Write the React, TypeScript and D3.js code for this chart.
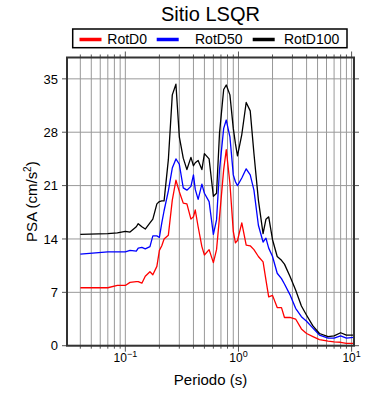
import React from "react";
import * as d3 from "d3";

// periods (s) shared by the three spectra
const periods = [0.04, 0.07, 0.085, 0.1, 0.11, 0.125, 0.13, 0.14, 0.15, 0.165, 0.175, 0.19, 0.2, 0.21, 0.22, 0.24, 0.26, 0.28, 0.3, 0.325, 0.35, 0.38, 0.4, 0.415, 0.44, 0.475, 0.5, 0.55, 0.6, 0.64, 0.68, 0.74, 0.78, 0.84, 0.9, 0.94, 0.98, 1.07, 1.17, 1.27, 1.37, 1.5, 1.65, 1.75, 1.85, 2.0, 2.2, 2.4, 2.55, 2.85, 3.2, 3.6, 4.0, 4.55, 5.2, 6.2, 7.0, 8.0, 9.0, 10.4];

const rotD0 = [7.6, 7.6, 7.9, 7.9, 8.3, 8.4, 8.4, 8.2, 9.1, 9.7, 9.3, 10.4, 12.5, 13.1, 14.0, 14.5, 19.1, 21.7, 20.2, 18.7, 18.6, 16.6, 16.9, 17.8, 15.6, 13.0, 11.9, 12.6, 10.9, 12.6, 16.9, 23.1, 25.7, 21.3, 15.0, 13.5, 13.8, 16.1, 13.2, 13.1, 12.6, 11.7, 11.0, 8.6, 6.4, 6.6, 5.0, 5.0, 3.7, 3.7, 3.5, 2.2, 1.6, 1.2, 0.8, 0.6, 0.5, 0.45, 0.3, 0.3];

const rotD50 = [12.0, 12.3, 12.3, 12.3, 12.5, 12.4, 12.8, 12.9, 12.7, 13.0, 14.4, 14.4, 14.2, 16.1, 17.7, 20.3, 23.3, 24.5, 23.8, 20.7, 20.4, 20.9, 22.4, 20.5, 19.2, 21.2, 20.0, 18.9, 14.6, 16.5, 23.1, 28.5, 29.6, 27.4, 22.4, 21.5, 21.0, 22.0, 23.2, 22.4, 20.4, 15.8, 13.6, 14.1, 12.8, 11.7, 9.5, 8.8, 8.1, 6.7, 4.9, 3.8, 3.2, 2.3, 1.4, 1.0, 1.0, 1.3, 1.0, 1.1];

const rotD100 = [14.6, 14.7, 14.8, 15.0, 14.9, 15.6, 16.0, 15.6, 15.3, 16.1, 16.6, 18.6, 18.9, 19.0, 19.0, 24.4, 32.9, 34.3, 27.4, 24.6, 23.1, 24.7, 23.6, 24.0, 24.3, 23.1, 25.2, 24.5, 19.6, 20.0, 27.9, 33.6, 34.2, 32.9, 28.5, 26.5, 24.9, 27.7, 31.9, 30.8, 25.2, 19.1, 14.7, 16.6, 16.9, 13.9, 11.7, 11.2, 10.7, 9.1, 7.3, 5.2, 4.0, 2.6, 1.6, 1.2, 1.3, 1.7, 1.4, 1.4];

const seriesNames = ["RotD0", "RotD50", "RotD100"];
const seriesColors = ["#ff0000", "#0000ff", "#000000"];
const yTicks = [0, 7, 14, 21, 28, 35];
const xDecades = [-1, 0, 1];

const W = 390;
const H = 400;
const plot = { left: 67, right: 354, top: 57.5, bottom: 345.7 };

const App = () => {
    const x = d3.scaleLog().domain([0.0305, 10.5]).range([plot.left, plot.right]);
    const y = d3.scaleLinear().domain([0, 37.8]).range([plot.bottom, plot.top]);

    const line = d3
        .line<[number, number]>()
        .x((d) => x(d[0]))
        .y((d) => y(d[1]));

    const allSeries = [rotD0, rotD50, rotD100];

    // minor + major vertical grid positions
    const gridX: { v: number; major: boolean }[] = [];
    for (let p = -2; p <= 1; p++) {
        for (let k = 1; k <= 9; k++) {
            const v = k * Math.pow(10, p);
            if (v >= x.domain()[0] && v <= x.domain()[1]) gridX.push({ v, major: k === 1 });
        }
    }

    const font = "Liberation Sans, Arial, sans-serif";

    return (
        <svg
            width={W}
            height={H}
            style={{ position: "absolute", left: 0, top: 0, background: "#fff" }}
            fontFamily={font}
        >
            <rect width={W} height={H} fill="#fff" />

            {/* title */}
            <text x={210.5} y={21} textAnchor="middle" fontSize={20}>
                Sitio LSQR
            </text>

            {/* legend */}
            <rect x={72.7} y={29} width={274.3} height={18.7} fill="#fff" stroke="#000" strokeWidth={1.5} />
            {seriesNames.map((name, i) => {
                const lx = [79.5, 156.7, 252.7][i];
                const tx = [107.3, 195, 284][i];
                return (
                    <g key={name}>
                        <line x1={lx} x2={lx + 22} y1={39.5} y2={39.5} stroke={seriesColors[i]} strokeWidth={3.5} />
                        <text x={tx} y={43.5} fontSize={14}>
                            {name}
                        </text>
                    </g>
                );
            })}

            {/* grid */}
            <g stroke="#999" strokeWidth={1}>
                {gridX.map((g) => (
                    <line key={"gx" + g.v} x1={x(g.v)} x2={x(g.v)} y1={plot.top} y2={plot.bottom} />
                ))}
                {yTicks.map((t) => (
                    <line key={"gy" + t} x1={plot.left} x2={plot.right} y1={y(t)} y2={y(t)} />
                ))}
            </g>

            {/* x ticks top & bottom */}
            <g stroke="#555" strokeWidth={1}>
                {gridX.map((g) => {
                    const len = g.major ? 6 : 3;
                    return (
                        <g key={"tx" + g.v}>
                            <line x1={x(g.v)} x2={x(g.v)} y1={plot.bottom} y2={plot.bottom + len} />
                            <line x1={x(g.v)} x2={x(g.v)} y1={plot.top} y2={plot.top - len} />
                        </g>
                    );
                })}
                {yTicks.map((t) => (
                    <g key={"ty" + t}>
                        <line x1={plot.left - 5} x2={plot.left} y1={y(t)} y2={y(t)} />
                        <line x1={plot.right} x2={plot.right + 5} y1={y(t)} y2={y(t)} />
                    </g>
                ))}
            </g>

            {/* series */}
            <g fill="none" strokeWidth={1.3} strokeLinejoin="round">
                {allSeries.map((vals, i) => (
                    <path
                        key={seriesNames[i]}
                        d={line(periods.map((p, j) => [p, vals[j]]) as [number, number][]) || ""}
                        stroke={seriesColors[i]}
                    />
                ))}
            </g>

            {/* frame */}
            <rect
                x={plot.left}
                y={plot.top}
                width={plot.right - plot.left}
                height={plot.bottom - plot.top}
                fill="none"
                stroke="#333"
                strokeWidth={2}
            />

            {/* y tick labels */}
            {yTicks.map((t) => (
                <text key={"ly" + t} x={58} y={y(t)} dy="0.36em" textAnchor="end" fontSize={13}>
                    {t}
                </text>
            ))}

            {/* x tick labels */}
            {xDecades.map((d) => (
                <text key={"lx" + d} x={x(Math.pow(10, d))} y={362} textAnchor="middle" fontSize={12}>
                    10
                    <tspan dy={-5} fontSize={9}>
                        {d < 0 ? "\u2212" + Math.abs(d) : String(d)}
                    </tspan>
                </text>
            ))}

            {/* axis titles */}
            <text x={210.5} y={385} textAnchor="middle" fontSize={15}>
                Periodo (s)
            </text>
            <text transform={`translate(37, 201.6) rotate(-90)`} textAnchor="middle" fontSize={15}>
                PSA (cm/s
                <tspan dy={-6} fontSize={10}>
                    2
                </tspan>
                <tspan dy={6}>)</tspan>
            </text>
        </svg>
    );
};

export default App;
